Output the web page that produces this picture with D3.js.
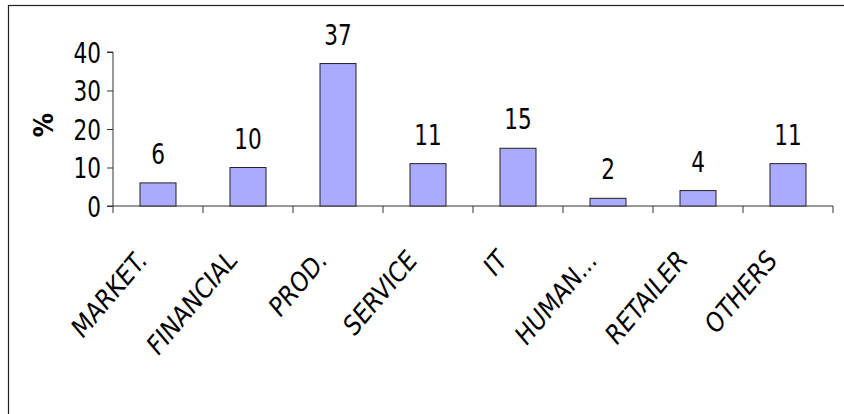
<!DOCTYPE html>
<html>
<head>
<meta charset="utf-8">
<script src="https://cdn.jsdelivr.net/npm/d3@7"></script>
<style>
html,body{margin:0;padding:0;background:#fff;}
svg{display:block;}
text{font-family:"DejaVu Sans Condensed","DejaVu Sans",sans-serif;fill:#000;}
</style>
</head>
<body>
<svg id="chart" width="844" height="414"></svg>
<script>
const categories = ["MARKET.", "FINANCIAL", "PROD.", "SERVICE", "IT", "HUMAN...", "RETAILER", "OTHERS"];
const values = [6, 10, 37, 11, 15, 2, 4, 11];
const yTicks = [0, 10, 20, 30, 40];
const yLabel = "%";

const svg = d3.select("#chart");
const plot = {left: 113, right: 833, top: 52, bottom: 206};
const FONT = '"DejaVu Sans Condensed","DejaVu Sans",sans-serif';

// frame (extends beyond right/bottom of view)
svg.append("rect")
  .attr("x", 8.5).attr("y", 5.5)
  .attr("width", 900).attr("height", 500)
  .attr("fill", "none").attr("stroke", "#222").attr("stroke-width", 1.2);

const x = d3.scaleBand().domain(categories)
  .range([plot.left, plot.right]).paddingInner(0.6).paddingOuter(0.3);
const y = d3.scaleLinear().domain([0, 40]).range([plot.bottom, plot.top]);

// y axis
const yAxis = d3.axisLeft(y).tickValues(yTicks).tickSize(6).tickPadding(0).tickFormat(d3.format("d"));
const gy = svg.append("g").attr("transform", `translate(${plot.left},0)`).call(yAxis);
gy.select(".domain").attr("stroke", "#333").attr("d", `M-6,${y(40)}H0V${y(0)}H-6`);
gy.selectAll(".tick line").attr("stroke", "#333");
gy.selectAll(".tick text")
  .attr("font-size", 24).attr("x", 0).attr("dy", null).attr("y", 0)
  .attr("transform", "translate(-12,0) scale(1,1.18) translate(0,8.6)")
  .style("font-family", FONT).attr("fill", "#000");

// x axis line
svg.append("line")
  .attr("x1", plot.left).attr("x2", plot.right)
  .attr("y1", y(0)).attr("y2", y(0))
  .attr("stroke", "#333");

// x tick marks at category boundaries
const step = x.step();
const boundaries = categories.map(c => x(c) - step * x.paddingInner() / 2);
boundaries.push(boundaries[boundaries.length - 1] + step);
svg.append("g").selectAll("line").data(boundaries).join("line")
  .attr("x1", d => d).attr("x2", d => d)
  .attr("y1", y(0)).attr("y2", y(0) + 7)
  .attr("stroke", "#333");

// bars
svg.append("g").selectAll("rect").data(values).join("rect")
  .attr("x", (d, i) => x(categories[i]))
  .attr("y", d => y(d))
  .attr("width", x.bandwidth())
  .attr("height", d => y(0) - y(d))
  .attr("fill", "#aaaaff")
  .attr("stroke", "#222").attr("stroke-width", 1);

// value labels
svg.append("g").selectAll("text").data(values).join("text")
  .attr("transform", (d, i) => `translate(${x(categories[i]) + x.bandwidth() / 2},${y(d) - 19}) scale(1,1.18)`)
  .attr("text-anchor", "middle")
  .attr("font-size", 24)
  .text(d => d);

// category labels rotated
svg.append("g").selectAll("text").data(categories).join("text")
  .attr("transform", c => `translate(${x(c) + x.bandwidth() / 2 - 10},262) scale(1,1.18) rotate(-45)`)
  .attr("text-anchor", "end")
  .attr("font-size", 24)
  .text(c => c);

// y label
svg.append("text")
  .attr("transform", "translate(53,125) rotate(-90)")
  .attr("text-anchor", "middle")
  .attr("font-size", 27).attr("font-weight", "bold")
  .text(yLabel);
</script>
</body>
</html>
